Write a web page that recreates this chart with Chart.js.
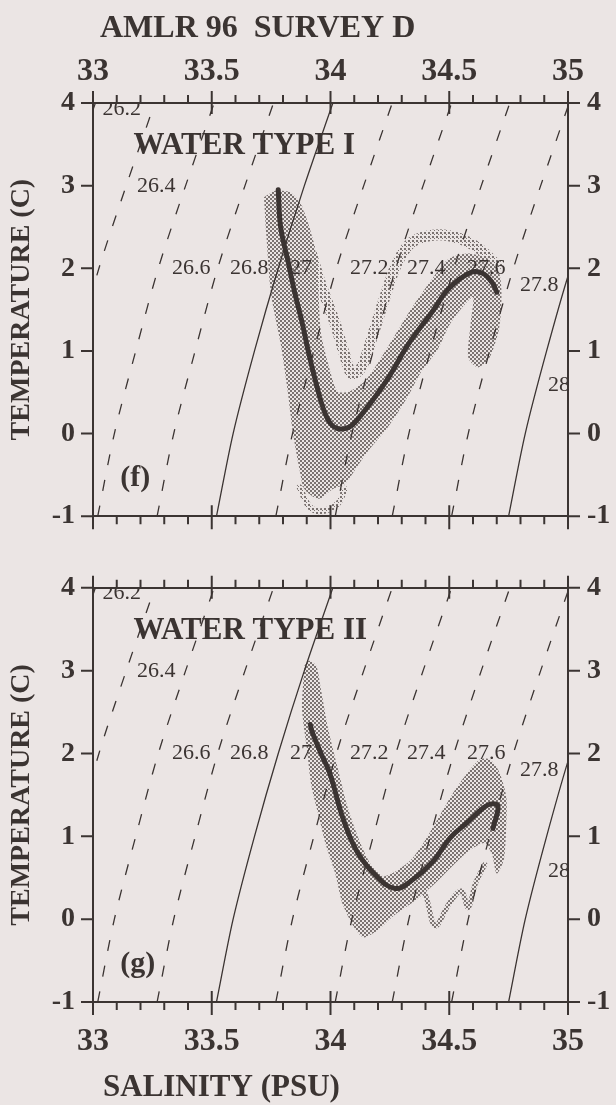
<!DOCTYPE html>
<html><head><meta charset="utf-8">
<script src="https://cdn.jsdelivr.net/npm/chart.js@4.4.1/dist/chart.umd.min.js"></script>
<style>
html,body{margin:0;padding:0;background:#ebe5e4;}
#wrap{position:relative;width:616px;height:1105px;overflow:hidden;}
.box{position:absolute;left:0;width:616px;}
</style></head><body>
<div id="wrap">
<div class="box" style="top:0;height:552px"><canvas id="c1"></canvas></div>
<div class="box" style="top:552px;height:553px"><canvas id="c2"></canvas></div>
</div>
<script>
// ---------- tick values / labels ----------
const xTickValues = [33, 33.5, 34, 34.5, 35];
const xTickLabels = ['33', '33.5', '34', '34.5', '35'];
const xMinorValues = [33.1,33.2,33.3,33.4,33.6,33.7,33.8,33.9,34.1,34.2,34.3,34.4,34.6,34.7,34.8,34.9];
const yTickValues = [-1, 0, 1, 2, 3, 4];
const yTickLabels = ['-1', '0', '1', '2', '3', '4'];

// ---------- isopycnals (salinity read at each temperature) ----------
const isoTemps = [-1, 0, 1, 2, 3, 4];
const iso26_2 = [32.52, 32.59, 32.68, 32.775, 32.89, 33.01];
const iso26_4 = [32.77, 32.84, 32.93, 33.025, 33.14, 33.26];
const iso26_6 = [33.02, 33.09, 33.18, 33.275, 33.39, 33.51];
const iso26_8 = [33.27, 33.34, 33.43, 33.525, 33.64, 33.76];
const iso27_0 = [33.52, 33.59, 33.68, 33.78, 33.89, 34.01];
const iso27_2 = [33.77, 33.84, 33.93, 34.025, 34.14, 34.26];
const iso27_4 = [34.02, 34.09, 34.18, 34.275, 34.39, 34.51];
const iso27_6 = [34.26, 34.33, 34.42, 34.52, 34.635, 34.755];
const iso27_8 = [34.51, 34.58, 34.67, 34.77, 34.885, 35.005];
const iso28_0 = [34.75, 34.82, 34.91, 35.01, 35.13, 35.25];
const isoLines = [iso26_2, iso26_4, iso26_6, iso26_8, iso27_0, iso27_2, iso27_4, iso27_6, iso27_8, iso28_0];
const isoSolid = [false, false, false, false, true, false, false, false, false, true];
const isoLabels = ['26.2', '26.4', '26.6', '26.8', '27', '27.2', '27.4', '27.6', '27.8', '28'];
const isoLabelS = [33.04, 33.185, 33.333, 33.577, 33.829, 34.082, 34.322, 34.575, 34.798, 34.916];
const isoLabelT = [3.93, 2.99, 2.0, 2.0, 2.0, 2.0, 2.0, 2.0, 1.8, 0.58];

// ---------- panel (f): water type I ----------
const meanF_S = [33.78, 33.79, 33.82, 33.85, 33.88, 33.91, 33.94, 33.97, 34.00, 34.03, 34.06, 34.09, 34.15, 34.24, 34.33, 34.43, 34.50, 34.59, 34.64, 34.68, 34.70];
const meanF_T = [2.95, 2.5, 2.1, 1.7, 1.35, 0.95, 0.6, 0.3, 0.12, 0.06, 0.06, 0.1, 0.3, 0.66, 1.09, 1.48, 1.76, 1.95, 1.94, 1.83, 1.71];
const shadeF_S = [33.72,33.73,33.75,33.79,33.82,33.84,33.87,33.89,33.95,34.01,34.06,34.15,34.24,34.32,34.38,34.45,34.50,34.55,34.60,34.59,34.58,34.62,34.67,34.71,34.72,34.71,34.66,34.58,34.50,34.43,34.34,34.24,34.15,34.08,34.03,34.00,33.96,33.95,33.94,33.91,33.87,33.83,33.77,33.72];
const shadeF_T = [2.86,2.39,1.68,1.09,0.51,0.04,-0.44,-0.67,-0.79,-0.67,-0.61,-0.24,0.07,0.42,0.74,1.01,1.31,1.51,1.65,1.33,0.92,0.80,0.92,1.27,1.68,1.94,2.12,2.18,2.12,1.88,1.51,1.04,0.65,0.51,0.51,0.74,1.21,1.68,2.15,2.51,2.80,2.92,2.94,2.86];
const bandF_S = [33.86,33.91,33.96,34.02,34.06,34.09,34.13,34.18,34.23,34.28,34.34,34.43,34.52,34.62,34.70];
const bandF_T = [2.72,2.27,1.80,1.33,0.95,0.72,0.80,1.21,1.66,2.06,2.31,2.40,2.38,2.25,2.04];
const loopF_S = [33.87,33.91,33.96,34.03,34.06];
const loopF_T = [-0.65,-0.88,-0.94,-0.85,-0.67];

// ---------- panel (g): water type II ----------
const meanG_S = [33.915, 33.922, 33.96, 33.998, 34.053, 34.112, 34.196, 34.272, 34.335, 34.432, 34.503, 34.575, 34.638, 34.672, 34.705, 34.684];
const meanG_T = [2.35, 2.267, 2.0, 1.752, 1.213, 0.815, 0.511, 0.37, 0.452, 0.698, 0.979, 1.166, 1.33, 1.389, 1.365, 1.096];
const shadeG_S = [33.89,33.88,33.90,33.92,33.95,33.98,34.02,34.05,34.10,34.14,34.20,34.27,34.36,34.44,34.52,34.59,34.65,34.68,34.70,34.73,34.74,34.74,34.71,34.67,34.63,34.58,34.52,34.46,34.40,34.34,34.27,34.22,34.17,34.12,34.07,34.03,33.99,33.96,33.94,33.91,33.89];
const shadeG_T = [3.06,2.54,2.07,1.60,1.25,0.90,0.55,0.19,-0.10,-0.22,-0.13,0.05,0.23,0.43,0.66,0.84,0.92,0.78,0.55,0.72,1.13,1.48,1.78,1.93,1.93,1.78,1.54,1.25,0.96,0.72,0.57,0.52,0.66,0.96,1.37,1.83,2.30,2.77,3.06,3.12,3.06];
const zigG_S = [34.33,34.39,34.44,34.50,34.55,34.58,34.61,34.65];
const zigG_T = [0.24,0.34,-0.08,0.19,0.34,0.14,0.43,0.66];

// ---------- styling ----------
const ink = '#3b3432';
const SERIF = '"Liberation Serif","Times New Roman",serif';

function stipple(color, sparse) {
  const c = document.createElement('canvas');
  c.width = 4; c.height = 4;
  const g = c.getContext('2d');
  g.fillStyle = color;
  g.fillRect(0, 0, 2, 2);
  if (!sparse) g.fillRect(2, 2, 2, 2);
  else g.fillRect(2, 2, 1, 1);
  return g.createPattern(c, 'repeat');
}
const dots = stipple('#7b7371', false);
const lightDots = stipple('#7b7371', true);

const zip = (s, t) => s.map((v, i) => ({x: v, y: t[i]}));

function isoDatasets() {
  return isoLines.map((s, i) => ({
    data: zip(s, isoTemps), showLine: true, borderColor: ink,
    borderWidth: 1.3, borderDash: isoSolid[i] ? [] : [11, 15],
    pointRadius: 0, tension: 0.3, fill: false, clip: 0, order: 2
  }));
}
function shapeDs(s, t) {
  return {data: zip(s, t), showLine: true, fill: 'shape', backgroundColor: dots,
    borderColor: 'rgba(0,0,0,0)', borderWidth: 0, pointRadius: 0, tension: 0.25, order: 5};
}
function bandDs(s, t, w, pat) {
  return {data: zip(s, t), showLine: true, fill: false, borderColor: pat, borderWidth: w,
    borderCapStyle: 'round', borderJoinStyle: 'round', pointRadius: 0, tension: 0.35, order: 4};
}
function meanDs(s, t) {
  return {data: zip(s, t), showLine: true, fill: false, borderColor: ink, borderWidth: 5,
    borderCapStyle: 'round', borderJoinStyle: 'round', pointRadius: 0, tension: 0.4, order: 0};
}

const tickPlugin = {
  id: 'tickMarks',
  afterDraw(chart) {
    const ctx = chart.ctx, a = chart.chartArea;
    const xs = chart.scales.x, ys = chart.scales.y;
    ctx.save();
    ctx.strokeStyle = ink; ctx.lineWidth = 2;
    ctx.beginPath();
    xTickValues.forEach(v => {
      const p = xs.getPixelForValue(v);
      ctx.moveTo(p, a.top - 12); ctx.lineTo(p, a.top + 11);
      ctx.moveTo(p, a.bottom - 11); ctx.lineTo(p, a.bottom + 13);
    });
    xMinorValues.forEach(v => {
      const p = xs.getPixelForValue(v);
      ctx.moveTo(p, a.top - 8); ctx.lineTo(p, a.top);
      ctx.moveTo(p, a.bottom); ctx.lineTo(p, a.bottom + 8);
    });
    yTickValues.forEach(v => {
      const p = ys.getPixelForValue(v);
      ctx.moveTo(a.left - 12, p); ctx.lineTo(a.left, p);
      ctx.moveTo(a.right, p); ctx.lineTo(a.right + 12, p);
    });
    ctx.stroke();
    ctx.restore();
  }
};

function textPlugin(cfg) {
  return {
    id: 'texts',
    afterDraw(chart) {
      const ctx = chart.ctx, a = chart.chartArea;
      const xs = chart.scales.x, ys = chart.scales.y;
      ctx.save();
      ctx.fillStyle = ink;
      ctx.save();
      ctx.beginPath(); ctx.rect(a.left + 1, a.top + 1, a.right - a.left - 2, a.bottom - a.top - 2); ctx.clip();
      ctx.font = '22px ' + SERIF;
      ctx.textAlign = 'left'; ctx.textBaseline = 'middle';
      isoLabels.forEach((t, i) => {
        ctx.fillText(t, xs.getPixelForValue(isoLabelS[i]), ys.getPixelForValue(isoLabelT[i]));
      });
      ctx.restore();
      ctx.textAlign = 'left'; ctx.textBaseline = 'alphabetic';
      ctx.font = 'bold 31px ' + SERIF;
      ctx.fillText(cfg.waterType, xs.getPixelForValue(33.17), ys.getPixelForValue(3.38));
      ctx.font = 'bold 30px ' + SERIF;
      ctx.fillText(cfg.tag, xs.getPixelForValue(33.115), ys.getPixelForValue(cfg.tagT));
      if (cfg.title) {
        ctx.font = 'bold 32px ' + SERIF;
        ctx.fillText(cfg.title, 100, 37);
      }
      if (cfg.xTitle) {
        ctx.font = 'bold 31px ' + SERIF;
        ctx.fillText(cfg.xTitle, 103, chart.height - 9);
      }
      ctx.restore();
    }
  };
}

function makeChart(id, cfg) {
  const tickFontX = {family: SERIF, size: 32, weight: 'bold'};
  const tickFontY = {family: SERIF, size: 28, weight: 'bold'};
  const setX = s => { s.ticks = xTickValues.map(v => ({value: v})); };
  const setY = s => { s.ticks = yTickValues.map(v => ({value: v})); };
  const border = {display: true, color: ink, width: 2};
  const noGrid = {display: false, drawTicks: false};
  return new Chart(document.getElementById(id), {
    type: 'scatter',
    data: {datasets: cfg.datasets},
    options: {
      responsive: true, maintainAspectRatio: false, animation: false, events: [],
      layout: {padding: 0},
      plugins: {legend: {display: false}, tooltip: {enabled: false}, title: {display: false}},
      scales: {
        x: {type: 'linear', position: cfg.xPos, min: 33, max: 35, afterBuildTicks: setX,
            grid: noGrid, border: border,
            ticks: {display: true, autoSkip: false, maxRotation: 0, font: tickFontX, color: ink,
                    padding: cfg.xPad, callback: (v, i) => xTickLabels[i]},
            afterFit: s => { s.height = cfg.xH; }},
        x2: {type: 'linear', position: cfg.x2Pos, min: 33, max: 35, afterBuildTicks: setX,
            grid: noGrid, border: border, ticks: {display: false},
            afterFit: s => { s.height = cfg.x2H; }},
        y: {type: 'linear', position: 'left', min: -1, max: 4, afterBuildTicks: setY,
            grid: noGrid, border: border,
            ticks: {autoSkip: false, font: tickFontY, color: ink, padding: 18,
                    callback: (v, i) => yTickLabels[i]},
            title: {display: true, text: 'TEMPERATURE (C)', color: ink,
                    font: {family: SERIF, size: 28, weight: 'bold'}, padding: {top: 5, bottom: 0}},
            afterFit: s => { s.width = 93; }},
        y2: {type: 'linear', position: 'right', min: -1, max: 4, afterBuildTicks: setY,
            grid: noGrid, border: border,
            ticks: {autoSkip: false, font: tickFontY, color: ink, padding: 19,
                    callback: (v, i) => yTickLabels[i]},
            afterFit: s => { s.width = 48; }}
      }
    },
    plugins: [tickPlugin, textPlugin(cfg)]
  });
}

makeChart('c1', {
  xPos: 'top', x2Pos: 'bottom', xH: 103, x2H: 24, xPad: 12,
  waterType: 'WATER TYPE I', tag: '(f)', tagT: -0.64, title: 'AMLR 96  SURVEY D',
  datasets: [
    meanDs(meanF_S, meanF_T),
    ...isoDatasets(),
    bandDs(bandF_S, bandF_T, 11, lightDots),
    bandDs(loopF_S, loopF_T, 6, lightDots),
    shapeDs(shadeF_S, shadeF_T)
  ]
});

makeChart('c2', {
  xPos: 'bottom', x2Pos: 'top', xH: 103, x2H: 23, xPad: 21,
  waterType: 'WATER TYPE II', tag: '(g)', tagT: -0.64, xTitle: 'SALINITY (PSU)',
  datasets: [
    meanDs(meanG_S, meanG_T),
    ...isoDatasets(),
    bandDs(zigG_S, zigG_T, 5, dots),
    shapeDs(shadeG_S, shadeG_T)
  ]
});
</script>
</body></html>
